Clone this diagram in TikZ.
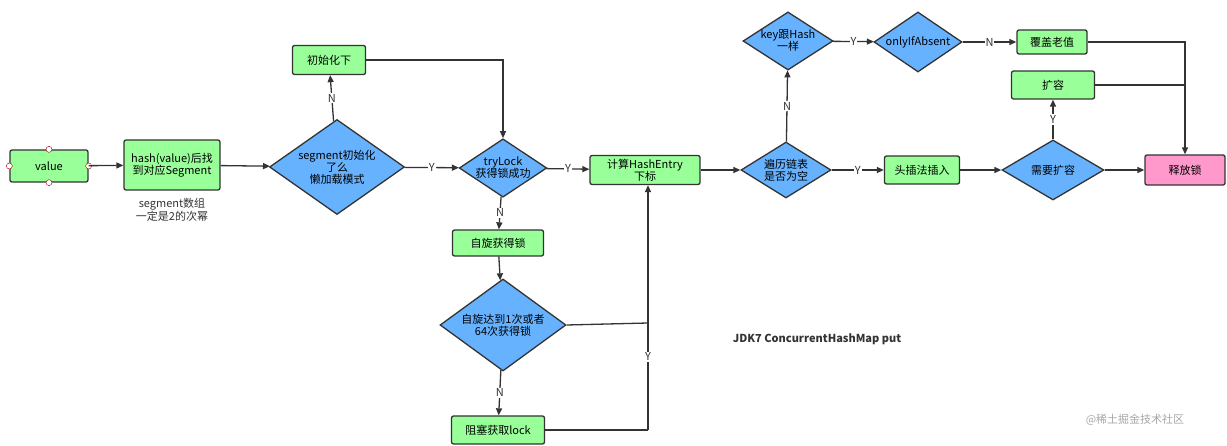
\documentclass[tikz,border=0pt]{standalone}
\usepackage{fontspec}
\setmainfont{Noto Sans CJK SC}
\usetikzlibrary{shapes.geometric,arrows.meta}
\definecolor{gbox}{HTML}{99FF99}
\definecolor{bdia}{HTML}{66B2FF}
\definecolor{pbox}{HTML}{FF99CC}
\definecolor{ln}{HTML}{333333}
\begin{document}
\begin{tikzpicture}[x=1pt,y=-1pt,font=\fontsize{11}{12}\selectfont,
 box/.style={draw=ln,line width=1.3pt,rounded corners=2pt,fill=gbox,minimum width=#1,align=center,inner sep=1pt},
 dia/.style={draw=ln,line width=1.3pt,diamond,aspect=1.5,fill=bdia,align=center,inner sep=0pt},
 ar/.style={draw=ln,line width=1.3pt,-{Triangle[length=7pt,width=6pt]}},
 ln/.style={draw=ln,line width=1.3pt},
 lab/.style={fill=white,inner sep=1pt,text=ln},
 port/.style={circle,draw=red!60!black,fill=white,inner sep=0pt,minimum size=6pt}]
\useasboundingbox (0,0) rectangle (1227,446);
\node[box=78pt,minimum height=32pt] (v) at (49,166) {value};
\foreach \p in {north,south,east,west} \node[port] at (v.\p) {};
\node[box=96pt,minimum height=50pt] (h) at (172,165) {hash(value)后找\\到对应Segment};
\node[align=center,text=ln] (note) at (172,210) {segment数组\\一定是2的次幂};
\node[dia,minimum width=135pt,minimum height=95pt] (s) at (337,167) {segment初始化\\了么\\懒加载模式};
\node[box=73pt,minimum height=29pt] (i) at (329,60) {初始化下};
\node[dia,minimum width=84pt,minimum height=54pt] (t) at (503,168) {tryLock\\获得锁成功};
\node[box=110pt,minimum height=29pt] (he) at (645,170) {计算HashEntry\\下标};
\node[dia,minimum width=90pt,minimum height=56pt] (b) at (786,170) {遍历链表\\是否为空};
\node[dia,minimum width=90pt,minimum height=58pt] (k) at (788,41) {key跟Hash\\一样};
\node[dia,minimum width=88pt,minimum height=60pt] (o) at (918,42) {onlyIfAbsent};
\node[box=70pt,minimum height=24pt] (c) at (1052,42) {覆盖老值};
\node[box=83pt,minimum height=28pt] (e) at (1053,85) {扩容};
\node[box=75pt,minimum height=28pt] (hi) at (922,170) {头插法插入};
\node[dia,minimum width=102pt,minimum height=60pt] (n) at (1053,170) {需要扩容};
\node[box=80pt,minimum height=30pt,fill=pbox] (r) at (1185,170) {释放锁};
\node[box=91pt,minimum height=26pt] (sp) at (498,243) {自旋获得锁};
\node[dia,minimum width=126pt,minimum height=92pt] (sd) at (503,325) {自旋达到1次或者\\64次获得锁};
\node[box=93pt,minimum height=28pt] (bl) at (498,430) {阻塞获取lock};
\node[font=\bfseries\fontsize{11}{12}\selectfont,text=ln] (jdk) at (817,339) {JDK7 ConcurrentHashMap put};
\node[text=black!35] (wm) at (1135,420) {@稀土掘金技术社区};
\coordinate (j1) at (648,323);
\coordinate (j2) at (648,430);
\coordinate (j3) at (1185,85);
\path[ar] (v) -- (h);
\path[ar] (h) -- (s);
\path[ar] (s) -- node[lab]{Y} (t);
\path[ar] (s) -- node[lab]{N} (i);
\path[ar] (i.east) -| (t.north);
\path[ar] (t) -- node[lab]{Y} (he);
\path[ar] (t) -- node[lab]{N} (sp);
\path[ar] (sp) -- (sd);
\path[ar] (sd) -- node[lab]{N} (bl);
\path[ln] (sd.east) -- (j1);
\path[ln] (bl.east) -- (j2);
\path[ar] (j2) -- node[lab,pos=0.3]{Y} (he.south -| j2);
\path[ar] (he) -- (b);
\path[ar] (b) -- node[lab]{Y} (hi);
\path[ar] (b) -- node[lab]{N} (k);
\path[ar] (k) -- node[lab]{Y} (o);
\path[ar] (o) -- node[lab]{N} (c);
\path[ar] (c.east) -| (r.north);
\path[ln] (e.east) -- (j3);
\path[ar] (hi) -- (n);
\path[ar] (n) -- (r);
\path[ar] (n) -- node[lab]{Y} (e);
\end{tikzpicture}
\end{document}
